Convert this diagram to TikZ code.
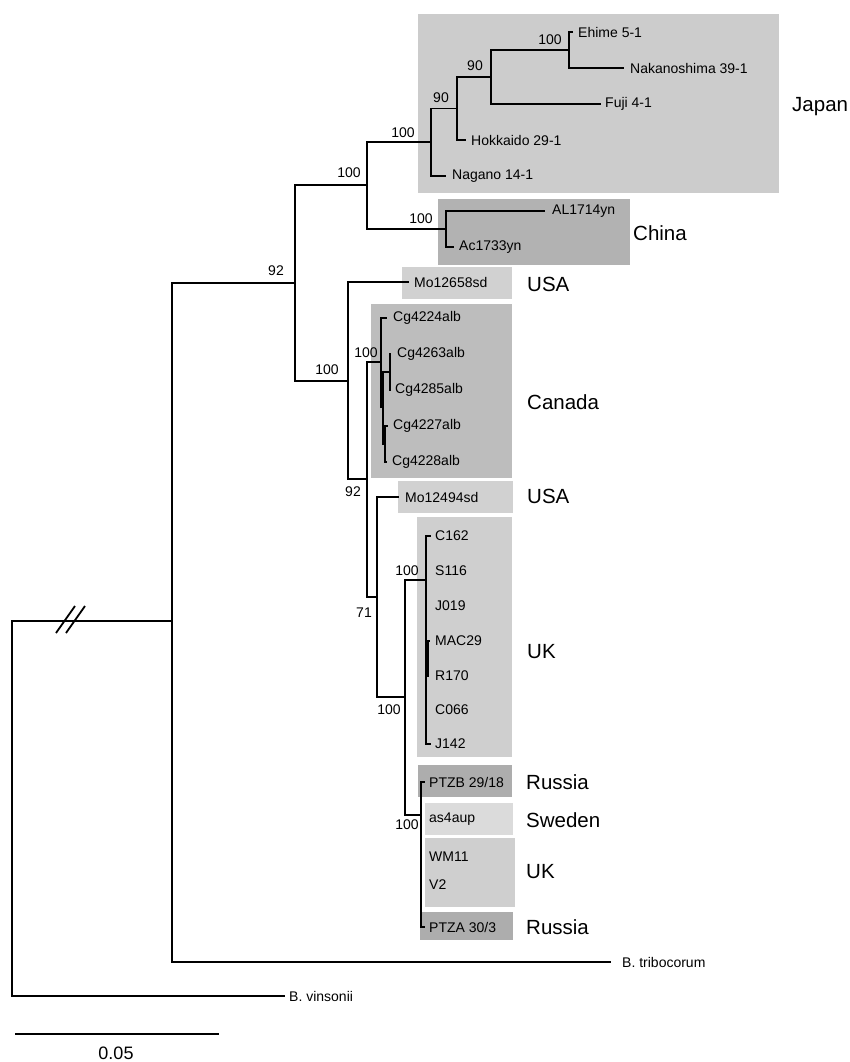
\documentclass[tikz,border=0pt]{standalone}
\usepackage{fontspec}
\setmainfont{Liberation Sans}
\definecolor{gJapan}{gray}{0.80}
\definecolor{gChina}{gray}{0.70}
\definecolor{gUSA}{gray}{0.82}
\definecolor{gCanada}{gray}{0.74}
\definecolor{gUK}{gray}{0.81}
\definecolor{gRussia}{gray}{0.68}
\definecolor{gSweden}{gray}{0.86}
\begin{document}
\begin{tikzpicture}[x=1pt,y=-1pt,
  br/.style={line width=1.4pt,line cap=rect},
  tip/.style={anchor=west,inner sep=0pt,font=\fontsize{14}{15}\selectfont},
  sup/.style={inner sep=0pt,font=\fontsize{14}{15}\selectfont},
  ctry/.style={anchor=west,inner sep=0pt,font=\fontsize{20.5}{22}\selectfont}]
\useasboundingbox (0,0) rectangle (850,1062);
% shaded boxes
\fill[gJapan]  (418,14)  rectangle (779,193);
\fill[gChina]  (438,199) rectangle (630,265);
\fill[gUSA]    (402,267) rectangle (512,299);
\fill[gCanada] (371,304) rectangle (512,478);
\fill[gUSA]    (398,481) rectangle (513,513);
\fill[gUK]     (417,517) rectangle (512,757);
\fill[gRussia] (418,765) rectangle (512,797);
\fill[gSweden] (425,803) rectangle (513,835);
\fill[gUK]     (425,838) rectangle (515,907);
\fill[gRussia] (420,912) rectangle (513,940);
% tips
\node[tip] (ehime)  at (578,32)  {Ehime 5-1};
\node[tip] (naka)   at (630,68)  {Nakanoshima 39-1};
\node[tip] (fuji)   at (605,104) {Fuji 4-1};
\node[tip] (hokk)   at (471,140) {Hokkaido 29-1};
\node[tip] (nagano) at (452,176) {Nagano 14-1};
\node[tip] (al)     at (552,211) {AL1714yn};
\node[tip] (ac)     at (459,247) {Ac1733yn};
\node[tip] (mo1)    at (414,282) {Mo12658sd};
\node[tip] (cg4224) at (393,318) {Cg4224alb};
\node[tip] (cg4263) at (397,354) {Cg4263alb};
\node[tip] (cg4285) at (395,390) {Cg4285alb};
\node[tip] (cg4227) at (393,426) {Cg4227alb};
\node[tip] (cg4228) at (392,462) {Cg4228alb};
\node[tip] (mo2)    at (405,497) {Mo12494sd};
\node[tip] (c162)   at (435,536) {C162};
\node[tip] (s116)   at (435,571) {S116};
\node[tip] (j019)   at (435,606) {J019};
\node[tip] (mac29)  at (435,641) {MAC29};
\node[tip] (r170)   at (435,676) {R170};
\node[tip] (c066)   at (435,710) {C066};
\node[tip] (j142)   at (435,744) {J142};
\node[tip] (ptzb)   at (429,782) {PTZB 29/18};
\node[tip] (as4)    at (429,819) {as4aup};
\node[tip] (wm11)   at (429,857) {WM11};
\node[tip] (v2)     at (429,885) {V2};
\node[tip] (ptza)   at (429,927) {PTZA 30/3};
\node[tip] (btrib)  at (622,962) {B. tribocorum};
\node[tip] (bvins)  at (289,996) {B. vinsonii};
% branch end points of tips
\coordinate (eEhime)  at ([xshift=-6pt]ehime.west);
\coordinate (eNaka)   at ([xshift=-7pt]naka.west);
\coordinate (eFuji)   at ([xshift=-5pt]fuji.west);
\coordinate (eHokk)   at ([xshift=-6pt]hokk.west);
\coordinate (eNagano) at ([xshift=-7pt]nagano.west);
\coordinate (eAl)     at ([xshift=-8pt]al.west);
\coordinate (eAc)     at ([xshift=-6pt]ac.west);
\coordinate (eMo1)    at ([xshift=-6pt]mo1.west);
\coordinate (eCg4224) at ([xshift=-7pt]cg4224.west);
\coordinate (eCg4227) at ([xshift=-6pt]cg4227.west);
\coordinate (eCg4228) at ([xshift=-6pt]cg4228.west);
\coordinate (eMo2)    at ([xshift=-7pt]mo2.west);
\coordinate (eBtrib)  at ([xshift=-12pt]btrib.west);
\coordinate (eBvins)  at ([xshift=-5pt]bvins.west);
% internal nodes
\coordinate (N1)  at (569,50);
\coordinate (N2)  at (491,77);
\coordinate (N3)  at (457,108.5);
\coordinate (N4)  at (431,142);
\coordinate (N5)  at (367,185);
\coordinate (N7)  at (446,229);
\coordinate (N6)  at (295,283);
\coordinate (N8)  at (348,381);
\coordinate (N10) at (367,479);
\coordinate (N9)  at (381,362);
\coordinate (N11) at (383,407);
\coordinate (N12) at (390,372);
\coordinate (N13) at (385,444);
\coordinate (N14) at (377,597);
\coordinate (N15) at (405,697);
\coordinate (N17) at (426,580);
\coordinate (N16) at (421,815);
\coordinate (A)   at (172,621);
\coordinate (R)   at (12,808);
% branches
\draw[br] (N1 |- ehime) -- (eEhime);
\draw[br] (N1 |- naka) -- (eNaka);
\draw[br] (N1 |- ehime) -- (N1 |- naka);
\draw[br] (N2 |- N1) -- (N1);
\draw[br] (N2 |- fuji) -- (eFuji);
\draw[br] (N2 |- N1) -- (N2 |- fuji);
\draw[br] (N3 |- N2) -- (N2);
\draw[br] (N3 |- hokk) -- (eHokk);
\draw[br] (N3 |- N2) -- (N3 |- hokk);
\draw[br] (N4 |- N3) -- (N3);
\draw[br] (N4 |- nagano) -- (eNagano);
\draw[br] (N4 |- N3) -- (N4 |- nagano);
\draw[br] (N5 |- N4) -- (N4);
\draw[br] (N5 |- N7) -- (N7);
\draw[br] (N5 |- N4) -- (N5 |- N7);
\draw[br] (N7 |- al) -- (eAl);
\draw[br] (N7 |- ac) -- (eAc);
\draw[br] (N7 |- al) -- (N7 |- ac);
\draw[br] (N6 |- N5) -- (N5);
\draw[br] (N6 |- N8) -- (N8);
\draw[br] (N6 |- N5) -- (N6 |- N8);
\draw[br] (N8 |- mo1) -- (eMo1);
\draw[br] (N8 |- N10) -- (N10);
\draw[br] (N8 |- mo1) -- (N8 |- N10);
\draw[br] (N10 |- N9) -- (N9);
\draw[br] (N10 |- N14) -- (N14);
\draw[br] (N10 |- N9) -- (N10 |- N14);
\draw[br] (N9 |- cg4224) -- (eCg4224);
\draw[br] (N9 |- N11) -- (N11);
\draw[br] (N9 |- cg4224) -- (N9 |- N11);
\draw[br] (N11 |- N12) -- (N12);
\draw[br] (N11 |- N13) -- (N13);
\draw[br] (N11 |- N12) -- (N11 |- N13);
\draw[br] (N12 |- cg4263) -- (N12 |- cg4285);
\draw[br] (N13 |- cg4227) -- (eCg4227);
\draw[br] (N13 |- cg4228) -- (eCg4228);
\draw[br] (N13 |- cg4227) -- (N13 |- cg4228);
\draw[br] (N14 |- mo2) -- (eMo2);
\draw[br] (N14 |- N15) -- (N15);
\draw[br] (N14 |- mo2) -- (N14 |- N15);
\draw[br] (N15 |- N17) -- (N17);
\draw[br] (N15 |- N16) -- (N16);
\draw[br] (N15 |- N17) -- (N15 |- N16);
\draw[br] (N17 |- c162) -- (N17 |- j142);
\draw[br] (N17 |- c162) -- ++(4,0);
\draw[br] (N17 |- mac29) -- ++(3,0);
\draw[br] ([xshift=2pt]N17 |- mac29) -- ([xshift=2pt]N17 |- r170);
\draw[br] (N17 |- j142) -- ++(4,0);
\draw[br] (N16 |- ptzb) -- (N16 |- ptza);
\draw[br] (N16 |- ptzb) -- ++(3,0);
\draw[br] (N16 |- ptza) -- ++(3,0);
\draw[br] (A |- N6) -- (N6);
\draw[br] (A |- btrib) -- (eBtrib);
\draw[br] (A |- N6) -- (A |- btrib);
\draw[br] (R |- A) -- (A);
\draw[br] (R |- bvins) -- (eBvins);
\draw[br] (R |- A) -- (R |- bvins);
% break marks
\draw[line width=1.8pt] (56,633) -- (75,606);
\draw[line width=1.8pt] (66,633) -- (85,606);
% support values
\node[sup] (s1)  at (276,271) {92};
\node[sup] (s2)  at (349,173) {100};
\node[sup] (s3)  at (403,133) {100};
\node[sup] (s4)  at (441,98)  {90};
\node[sup] (s5)  at (475,66)  {90};
\node[sup] (s6)  at (550,40)  {100};
\node[sup] (s7)  at (421,219) {100};
\node[sup] (s8)  at (327,370) {100};
\node[sup] (s9)  at (366,353) {100};
\node[sup] (s10) at (353,492) {92};
\node[sup] (s11) at (364,613) {71};
\node[sup] (s12) at (389,710) {100};
\node[sup] (s13) at (407,571) {100};
\node[sup] (s14) at (407,825) {100};
% countries
\node[ctry] (cJapan)  at (792,107) {Japan};
\node[ctry] (cChina)  at (633,233) {China};
\node[ctry] (cUSA1)   at (527,284) {USA};
\node[ctry] (cCanada) at (527,402) {Canada};
\node[ctry] (cUSA2)   at (527,496) {USA};
\node[ctry] (cUK1)    at (527,652) {UK};
\node[ctry] (cRus1)   at (526,782) {Russia};
\node[ctry] (cSwe)    at (526,820) {Sweden};
\node[ctry] (cUK2)    at (526,872) {UK};
\node[ctry] (cRus2)   at (526,927) {Russia};
% scale bar
\coordinate (sbL) at (15,1034);
\coordinate (sbR) at (219,1034);
\draw[line width=1.2pt] (sbL) -- (sbR);
\node[inner sep=0pt,font=\fontsize{18}{19}\selectfont] (sbT) at (116,1053) {0.05};
\end{tikzpicture}
\end{document}
